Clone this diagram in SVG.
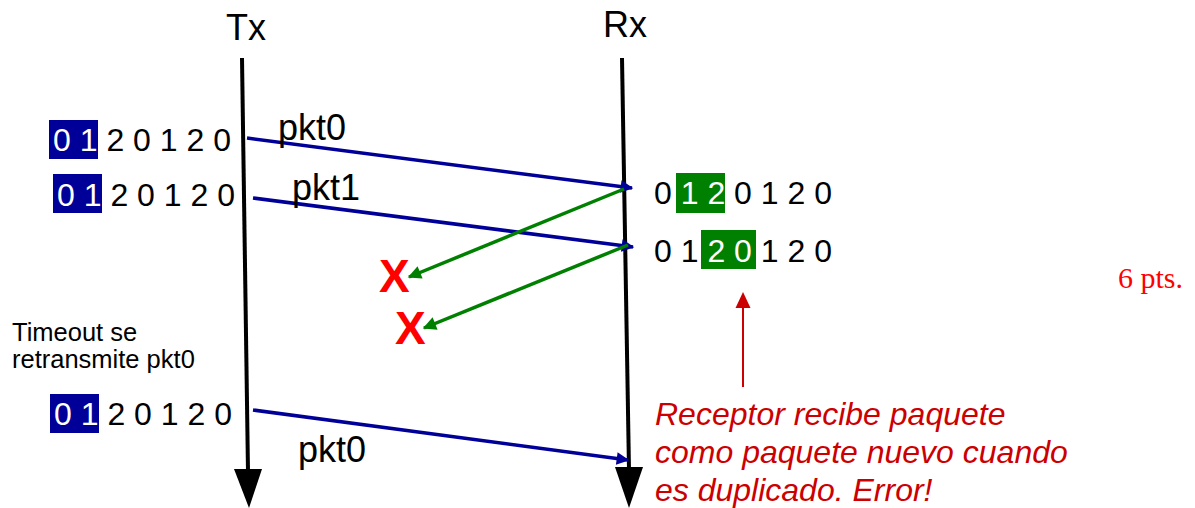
<svg xmlns="http://www.w3.org/2000/svg" width="1195" height="508" viewBox="0 0 1195 508">
  <style>
    .lbl { font-family: "Liberation Sans", Arial, sans-serif; fill: #000; }
    .seq { font-family: "Liberation Sans", Arial, sans-serif; font-size: 32px; fill: #000; }
    .hl { fill: #fff; }
    .note { font-family: "Liberation Sans", Arial, sans-serif; font-size: 32px; font-style: italic; fill: #cc0000; }
    .x { font-family: "Liberation Sans", Arial, sans-serif; font-size: 46px; font-weight: bold; fill: #ff0000; }
    .life { stroke: #000; stroke-width: 4; fill: none; }
    .pkt { stroke: #000099; stroke-width: 3.5; fill: none; marker-end: url(#blueHead); }
    .ack { stroke: #008000; stroke-width: 3.5; fill: none; marker-end: url(#greenHead); }
  </style>
  <defs>
    <marker id="blueHead" viewBox="0 0 10 10" refX="9" refY="5" markerWidth="4.2" markerHeight="3.6" orient="auto" markerUnits="strokeWidth">
      <path d="M0,0 L10,5 L0,10 Z" fill="#000099"/>
    </marker>
    <marker id="greenHead" viewBox="0 0 10 10" refX="9" refY="5" markerWidth="5" markerHeight="3.8" orient="auto" markerUnits="strokeWidth">
      <path d="M0,0 L10,5 L0,10 Z" fill="#008000"/>
    </marker>
  </defs>
  <rect width="1195" height="508" fill="#fff"/>

  <!-- Transmitter lifeline -->
  <g id="tx">
    <text class="lbl" x="226" y="40" font-size="36">Tx</text>
    <line class="life" x1="242" y1="58" x2="248" y2="472"/>
    <polygon points="234,469 262,469 249,508" fill="#000"/>
  </g>

  <!-- Receiver lifeline -->
  <g id="rx">
    <text class="lbl" x="603" y="37" font-size="36">Rx</text>
    <line class="life" x1="622" y1="58" x2="629" y2="470"/>
    <polygon points="615,467 643,467 629,508" fill="#000"/>
  </g>

  <!-- Sender windows -->
  <g id="tx-window-1">
    <rect x="49" y="120" width="49" height="39" fill="#000099"/>
    <text class="seq" x="53" y="151"><tspan class="hl">0 1</tspan> 2 0 1 2 0</text>
  </g>
  <g id="tx-window-2">
    <rect x="53" y="174" width="49" height="39" fill="#000099"/>
    <text class="seq" x="57" y="206"><tspan class="hl">0 1</tspan> 2 0 1 2 0</text>
  </g>
  <g id="tx-window-3">
    <rect x="50" y="394" width="49" height="39" fill="#000099"/>
    <text class="seq" x="54" y="425"><tspan class="hl">0 1</tspan> 2 0 1 2 0</text>
  </g>

  <!-- Receiver windows -->
  <g id="rx-window-1">
    <rect x="676" y="173" width="49" height="40" fill="#008000"/>
    <text class="seq" x="654" y="204">0 <tspan class="hl">1 2</tspan> 0 1 2 0</text>
  </g>
  <g id="rx-window-2">
    <rect x="701" y="230" width="55" height="39" fill="#008000"/>
    <text class="seq" x="654" y="262">0 1 <tspan class="hl">2 0</tspan> 1 2 0</text>
  </g>

  <!-- Timeout note -->
  <g id="timeout">
    <text class="lbl" font-size="25.5" x="12" y="341">Timeout se</text>
    <text class="lbl" font-size="25.5" x="12" y="368">retransmite pkt0</text>
  </g>

  <!-- Lost ACK marks -->
  <g id="loss-1"><text class="x" x="379" y="292">X</text></g>
  <g id="loss-2"><text class="x" x="395" y="344">X</text></g>

  <!-- Packet and ACK connectors -->
  <g id="connectors">
    <line class="pkt" x1="247" y1="138" x2="632" y2="188"/>
    <line class="pkt" x1="253" y1="198" x2="633" y2="247"/>
    <line class="pkt" x1="253" y1="410" x2="628" y2="460"/>
    <line class="ack" x1="624" y1="189" x2="409" y2="277"/>
    <line class="ack" x1="628" y1="245" x2="424" y2="328"/>
    <line x1="743" y1="387" x2="743" y2="306" stroke="#cc0000" stroke-width="2"/>
    <polygon points="735.5,308 750.5,308 743,292" fill="#cc0000"/>
  </g>

  <!-- Packet labels -->
  <g id="pkt-labels">
    <text class="lbl" font-size="36" x="278" y="140">pkt0</text>
    <text class="lbl" font-size="36" x="292" y="200">pkt1</text>
    <text class="lbl" font-size="36" x="298" y="462">pkt0</text>
  </g>

  <!-- Error note -->
  <g id="error-note">
    <text class="note" x="655" y="425">Receptor recibe paquete</text>
    <text class="note" x="655" y="463">como paquete nuevo cuando</text>
    <text class="note" x="655" y="501">es duplicado. Error!</text>
  </g>

  <text x="1118" y="288" font-family="'Liberation Serif', 'Times New Roman', serif" font-size="30" fill="#ff0000">6 pts.</text>
</svg>
